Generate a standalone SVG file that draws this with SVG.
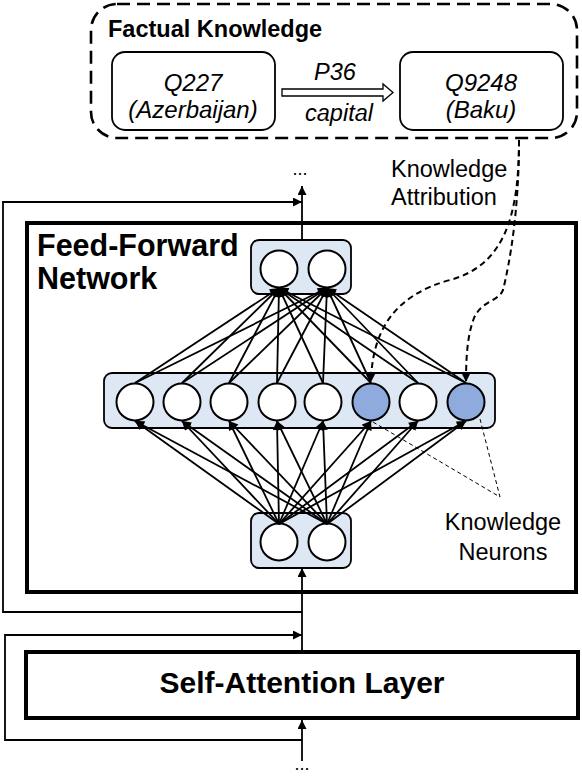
<svg xmlns="http://www.w3.org/2000/svg" width="582" height="776" viewBox="0 0 582 776">
<defs>
<style>
.t{font-family:"Liberation Sans",Arial,sans-serif;fill:#000}
.b{font-weight:bold}
.i{font-style:italic}
.ln{stroke:#000;stroke-width:1.8;fill:none}
.nb{fill:#dde8f4;stroke:#000;stroke-width:1.8}
.n{fill:#fff;stroke:#000;stroke-width:2}
.nk{fill:#8faadc;stroke:#000;stroke-width:2}
.da{stroke:#000;stroke-width:2;fill:none;stroke-dasharray:6 4}
.dt{stroke:#000;stroke-width:1;fill:none;stroke-dasharray:4 3}
</style>
<marker id="ah" viewBox="0 0 10 10" refX="10" refY="5" markerWidth="10" markerHeight="9" markerUnits="userSpaceOnUse" orient="auto"><path d="M0,0 L10,5 L0,10 z" fill="#000"/></marker>
</defs>
<rect width="582" height="776" fill="#fff"/>

<g id="factual-knowledge">
<rect x="91" y="4" width="486" height="134" rx="26" fill="none" stroke="#000" stroke-width="2.6" stroke-dasharray="13 7"/>
<text class="t b" x="108" y="37" font-size="23.5">Factual Knowledge</text>
</g>
<g id="q227">
<rect x="112" y="52" width="163" height="78" rx="13" fill="#fff" stroke="#000" stroke-width="1.8"/>
<text class="t i" x="193" y="91" font-size="24" text-anchor="middle">Q227</text>
<text class="t i" x="193" y="118" font-size="24" text-anchor="middle">(Azerbaijan)</text>
</g>
<g id="q9248">
<rect x="400" y="52" width="163" height="78" rx="13" fill="#fff" stroke="#000" stroke-width="1.8"/>
<text class="t i" x="481" y="91" font-size="24" text-anchor="middle">Q9248</text>
<text class="t i" x="481" y="118" font-size="24" text-anchor="middle">(Baku)</text>
</g>
<g id="relation">
<polygon points="282,89 383,89 383,84 393,92.5 383,101 383,96 282,96" fill="#fff" stroke="#000" stroke-width="1.3"/>
<text class="t i" x="335" y="80" font-size="23.5" text-anchor="middle">P36</text>
<text class="t i" x="339" y="121" font-size="23.5" text-anchor="middle">capital</text>
</g>

<g id="ffn">
<rect x="27" y="223" width="549" height="369" fill="#fff" stroke="#000" stroke-width="4"/>
<text class="t b" x="37" y="256" font-size="30.5">Feed-Forward</text>
<text class="t b" x="37" y="289" font-size="30.5">Network</text>
</g>

<g id="self-attention">
<rect x="26" y="652" width="552" height="66" fill="#fff" stroke="#000" stroke-width="4"/>
<text class="t b" x="302" y="693" font-size="30" text-anchor="middle">Self-Attention Layer</text>
</g>

<g id="top-layer">
<rect class="nb" x="251" y="240" width="100" height="54" rx="8"/>
<circle class="n" cx="279" cy="269" r="18.5"/>
<circle class="n" cx="327" cy="269" r="18.5"/>
</g>
<g id="middle-layer">
<rect class="nb" x="104" y="373" width="391" height="55" rx="8"/>
<circle class="n" cx="135" cy="402" r="18.5"/>
<circle class="n" cx="182" cy="402" r="18.5"/>
<circle class="n" cx="229" cy="402" r="18.5"/>
<circle class="n" cx="277" cy="402" r="18.5"/>
<circle class="n" cx="323" cy="402" r="18.5"/>
<circle class="nk" cx="371" cy="402" r="18.5"/>
<circle class="n" cx="418" cy="402" r="18.5"/>
<circle class="nk" cx="466" cy="402" r="18.5"/>
</g>
<g id="bottom-layer">
<rect class="nb" x="251" y="513" width="100" height="55" rx="8"/>
<circle class="n" cx="279" cy="542" r="18.5"/>
<circle class="n" cx="327" cy="542" r="18.5"/>
</g>

<g id="connectors">
<line class="ln" x1="302" y1="240" x2="302" y2="186" marker-end="url(#ah)"/>
<polyline class="ln" points="302,612 3,612 3,202 302,202" marker-end="url(#ah)"/>
<line class="ln" x1="302" y1="650" x2="302" y2="568" marker-end="url(#ah)"/>
<polyline class="ln" points="302,740 5,740 5,635 302,635" marker-end="url(#ah)"/>
<line class="ln" x1="302" y1="761" x2="302" y2="720" marker-end="url(#ah)"/>
<g marker-end="url(#ah)">
<line class="ln" x1="279" y1="524" x2="135" y2="421"/>
<line class="ln" x1="279" y1="524" x2="182" y2="421"/>
<line class="ln" x1="279" y1="524" x2="229" y2="421"/>
<line class="ln" x1="279" y1="524" x2="277" y2="421"/>
<line class="ln" x1="279" y1="524" x2="323" y2="421"/>
<line class="ln" x1="279" y1="524" x2="371" y2="421"/>
<line class="ln" x1="279" y1="524" x2="418" y2="421"/>
<line class="ln" x1="279" y1="524" x2="466" y2="421"/>
<line class="ln" x1="327" y1="524" x2="135" y2="421"/>
<line class="ln" x1="327" y1="524" x2="182" y2="421"/>
<line class="ln" x1="327" y1="524" x2="229" y2="421"/>
<line class="ln" x1="327" y1="524" x2="277" y2="421"/>
<line class="ln" x1="327" y1="524" x2="323" y2="421"/>
<line class="ln" x1="327" y1="524" x2="371" y2="421"/>
<line class="ln" x1="327" y1="524" x2="418" y2="421"/>
<line class="ln" x1="327" y1="524" x2="466" y2="421"/>
<line class="ln" x1="135" y1="383" x2="279" y2="288"/>
<line class="ln" x1="182" y1="383" x2="279" y2="288"/>
<line class="ln" x1="229" y1="383" x2="279" y2="288"/>
<line class="ln" x1="277" y1="383" x2="279" y2="288"/>
<line class="ln" x1="323" y1="383" x2="279" y2="288"/>
<line class="ln" x1="371" y1="383" x2="279" y2="288"/>
<line class="ln" x1="418" y1="383" x2="279" y2="288"/>
<line class="ln" x1="466" y1="383" x2="279" y2="288"/>
<line class="ln" x1="135" y1="383" x2="327" y2="288"/>
<line class="ln" x1="182" y1="383" x2="327" y2="288"/>
<line class="ln" x1="229" y1="383" x2="327" y2="288"/>
<line class="ln" x1="277" y1="383" x2="327" y2="288"/>
<line class="ln" x1="323" y1="383" x2="327" y2="288"/>
<line class="ln" x1="371" y1="383" x2="327" y2="288"/>
<line class="ln" x1="418" y1="383" x2="327" y2="288"/>
<line class="ln" x1="466" y1="383" x2="327" y2="288"/>
</g>
<path class="da" d="M519,140 C519,215 505,265 450,280 C395,295 372,330 371,382" marker-end="url(#ah)"/>
<path class="da" d="M519,140 C519,210 510,262 503,290 C498,302 482,300 474,318 C467,336 466,360 466,382" marker-end="url(#ah)"/>
<line class="dt" x1="373" y1="422" x2="500" y2="497"/>
<line class="dt" x1="480" y1="419" x2="500" y2="497"/>
</g>

<g id="labels">
<text class="t" x="300" y="175" font-size="18" text-anchor="middle">...</text>
<text class="t" x="302" y="770" font-size="18" text-anchor="middle">...</text>
<text class="t" x="391" y="177" font-size="23.5">Knowledge</text>
<text class="t" x="391" y="205" font-size="23.5">Attribution</text>
<text class="t" x="503" y="530" font-size="23.5" text-anchor="middle">Knowledge</text>
<text class="t" x="503" y="560" font-size="23.5" text-anchor="middle">Neurons</text>
</g>
</svg>
